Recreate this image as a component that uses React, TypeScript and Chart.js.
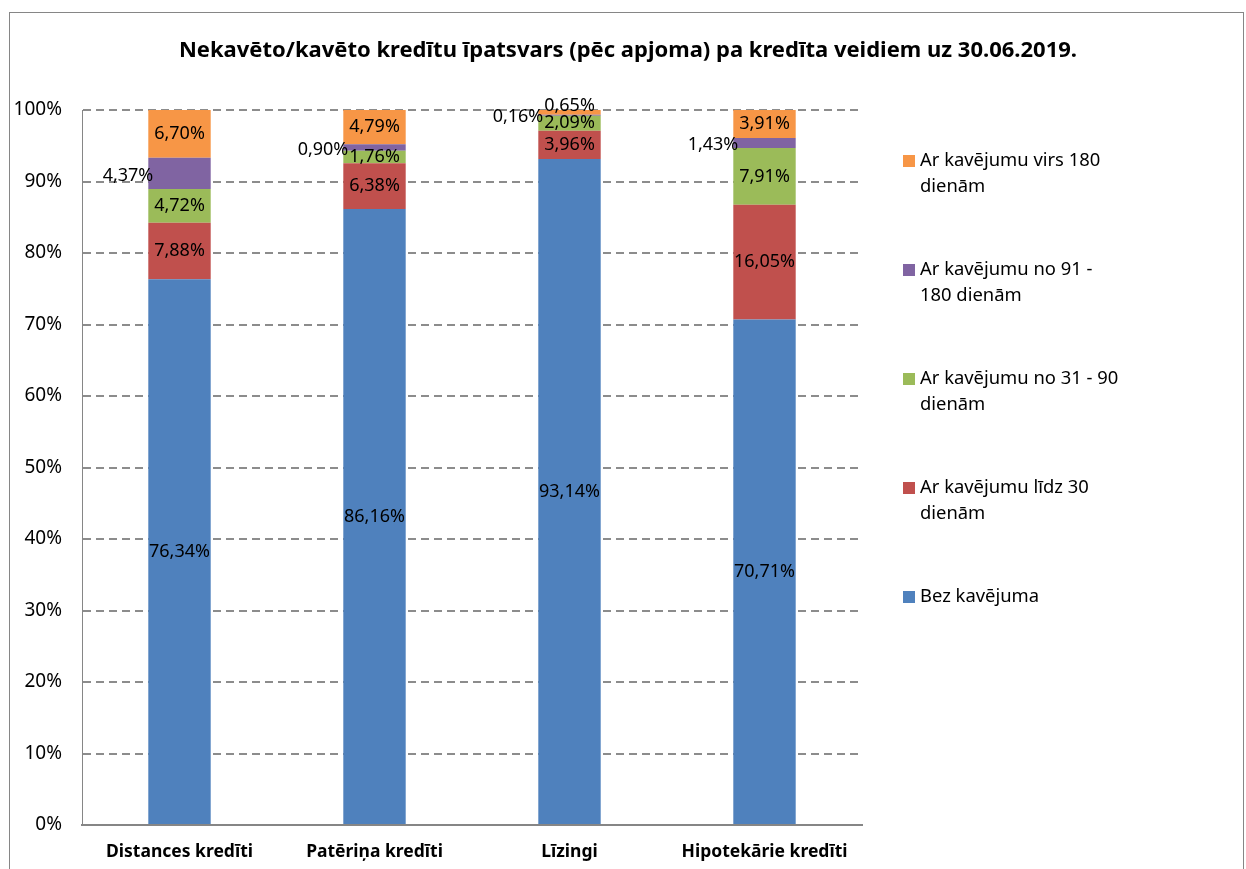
import React, { useEffect, useRef } from "react";
import { Chart, registerables } from "chart.js";

Chart.register(...registerables);

const chartTitle =
  "Nekavēto/kavēto kredītu īpatsvars (pēc apjoma) pa kredīta veidiem uz 30.06.2019.";
const categories = ["Distances kredīti", "Patēriņa kredīti", "Līzingi", "Hipotekārie kredīti"];
const seriesNames = [
  "Bez kavējuma",
  "Ar kavējumu līdz 30 dienām",
  "Ar kavējumu no 31 - 90 dienām",
  "Ar kavējumu no 91 - 180 dienām",
  "Ar kavējumu virs 180 dienām",
];
const legendLines = [
  ["Bez kavējuma"],
  ["Ar kavējumu līdz 30", "dienām"],
  ["Ar kavējumu no 31 - 90", "dienām"],
  ["Ar kavējumu no 91 -", "180 dienām"],
  ["Ar kavējumu virs 180", "dienām"],
];
const bezKavejuma = [76.34, 86.16, 93.14, 70.71];
const lidz30 = [7.88, 6.38, 3.96, 16.05];
const no31lidz90 = [4.72, 1.76, 2.09, 7.91];
const no91lidz180 = [4.37, 0.9, 0.16, 1.43];
const virs180 = [6.7, 4.79, 0.65, 3.91];
const seriesColors = ["#4F81BD", "#C0504D", "#9BBB59", "#8064A2", "#F79646"];
const yTickMin = 0;
const yTickMax = 100;
const yTickStep = 10;

const FONT = "'Noto Sans', 'DejaVu Sans', sans-serif";

const fmt = (v: number) => v.toFixed(2).replace(".", ",") + "%";

const decorPlugin = {
  id: "decor",
  beforeDraw(chart: any) {
    const ctx = chart.ctx;
    ctx.save();
    ctx.fillStyle = "#ffffff";
    ctx.fillRect(0, 0, chart.width, chart.height);
    ctx.restore();
  },
  afterDraw(chart: any) {
    const ctx = chart.ctx;
    const ca = chart.chartArea;
    ctx.save();
    // outer border
    ctx.strokeStyle = "#868686";
    ctx.lineWidth = 1;
    ctx.strokeRect(9.5, 12.5, 1234, 900);
    // title
    ctx.fillStyle = "#000";
    ctx.font = `bold 22px ${FONT}`;
    ctx.textAlign = "center";
    ctx.textBaseline = "middle";
    ctx.fillText(chartTitle, 628, 51);
    // legend (reverse order)
    ctx.font = `18.4px ${FONT}`;
    ctx.textAlign = "left";
    const n = chart.data.datasets.length;
    for (let k = 0; k < n; k++) {
      const di = n - 1 - k;
      const ds = chart.data.datasets[di];
      const cy = ca.top + 51 + k * 109;
      ctx.fillStyle = ds.backgroundColor;
      ctx.fillRect(ca.right + 41, cy - 6, 12, 12);
      ctx.fillStyle = "#000";
      legendLines[di].forEach((line, li) => {
        ctx.fillText(line, ca.right + 58, cy + li * 26);
      });
    }
    ctx.restore();
  },
  afterDatasetsDraw(chart: any) {
    const ctx = chart.ctx;
    ctx.save();
    ctx.font = `18px ${FONT}`;
    ctx.fillStyle = "#000";
    ctx.textBaseline = "middle";
    chart.data.datasets.forEach((ds: any, di: number) => {
      const meta = chart.getDatasetMeta(di);
      meta.data.forEach((bar: any, i: number) => {
        const v = ds.data[i];
        const { x, y, base, width } = bar.getProps(["x", "y", "base", "width"], true);
        const cy = (y + base) / 2;
        const txt = fmt(v);
        if (di === 3) {
          ctx.textAlign = "right";
          ctx.fillText(txt, x - width / 2 + 5, cy + 2);
        } else if (Math.abs(base - y) < 10) {
          ctx.textAlign = "center";
          ctx.fillText(txt, x, y - 4);
        } else {
          ctx.textAlign = "center";
          ctx.fillText(txt, x, cy);
        }
      });
    });
    ctx.restore();
  },
};

export default function App() {
  const ref = useRef<HTMLCanvasElement | null>(null);
  useEffect(() => {
    if (!ref.current) return;
    const seriesValues = [bezKavejuma, lidz30, no31lidz90, no91lidz180, virs180];
    const chart = new Chart(ref.current, {
      type: "bar",
      data: {
        labels: categories,
        datasets: seriesValues.map((vals, i) => ({
          label: seriesNames[i],
          data: vals,
          backgroundColor: seriesColors[i],
          borderWidth: 0,
          barPercentage: 0.32,
          categoryPercentage: 1,
        })),
      },
      options: {
        animation: false,
        responsive: false,
        layout: { padding: { left: 0, top: 110, right: 384, bottom: 0 } },
        plugins: {
          legend: { display: false },
          title: { display: false },
          tooltip: { enabled: false },
        },
        scales: {
          x: {
            stacked: true,
            grid: { display: false, drawTicks: false },
            border: { display: true, color: "#868686", width: 2 },
            ticks: {
              color: "#000",
              font: { family: FONT, size: 17.5, weight: "bold" },
              padding: 17,
            },
            afterFit: (s: any) => {
              s.height = 44;
            },
          },
          y: {
            stacked: true,
            min: yTickMin,
            max: yTickMax,
            grid: {
              color: (c: any) => (c.tick && c.tick.value === 0 ? "rgba(0,0,0,0)" : "#8c8c8c"),
              lineWidth: 2,
              drawTicks: false,
            },
            border: { display: true, color: "#868686", width: 1, dash: [8, 5] },
            ticks: {
              stepSize: yTickStep,
              color: "#000",
              font: { family: FONT, size: 19 },
              padding: 20,
              callback: (v: any) => v + "%",
            },
            afterFit: (s: any) => {
              s.width = 82;
            },
          },
        },
      },
      plugins: [decorPlugin],
    });
    return () => chart.destroy();
  }, []);
  return (
    <div style={{ position: "absolute", left: 0, top: 0, width: 1246, height: 869 }}>
      <canvas ref={ref} width={1246} height={869} style={{ display: "block" }} />
    </div>
  );
}
